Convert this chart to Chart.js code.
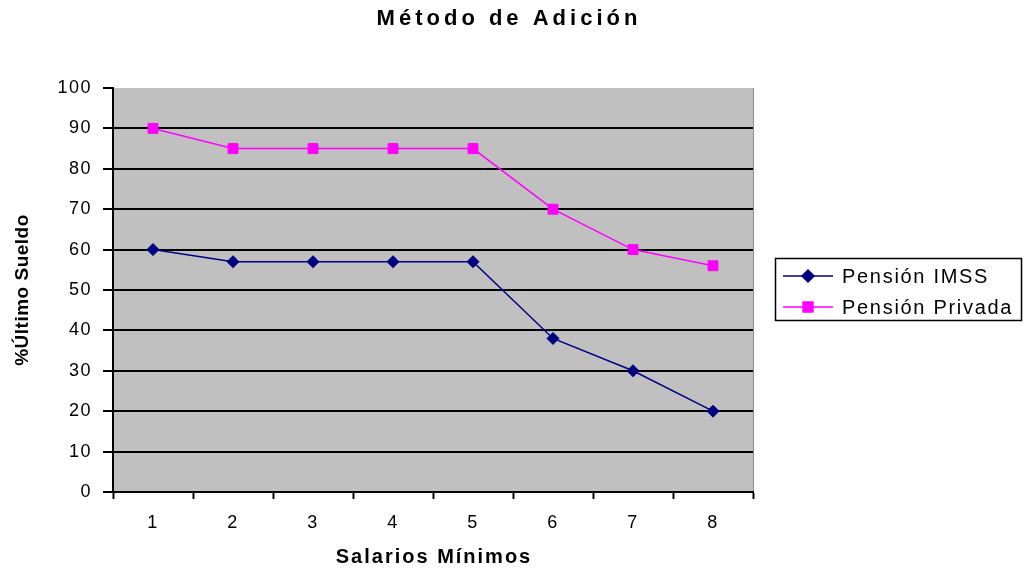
<!DOCTYPE html>
<html>
<head>
<meta charset="utf-8">
<script src="https://cdn.jsdelivr.net/npm/chart.js@4/dist/chart.umd.min.js"></script>
<style>
  html, body { margin: 0; padding: 0; background: #fff; }
  #wrap { width: 1024px; height: 569px; position: relative; }
</style>
</head>
<body>
<div id="wrap"><canvas id="c" width="1024" height="569"></canvas></div>
<script>
// data
var salarios = ["1", "2", "3", "4", "5", "6", "7", "8"];
var pensionIMSS = [60, 57, 57, 57, 57, 38, 30, 20];
var pensionPrivada = [90, 85, 85, 85, 85, 70, 60, 56];
var seriesNames = ["Pensión IMSS", "Pensión Privada"];
var chartTitle = "Método de Adición";
var xTitle = "Salarios Mínimos";
var yTitle = "%Último Sueldo";

var NAVY = "#000080", MAGENTA = "#FF00FF";
var FONT = "'Liberation Sans', Arial, sans-serif";

// gray plot area + titles + boxed legend
var decor = {
	id: "decor",
	beforeDraw: function(chart) {
		var ctx = chart.ctx, a = chart.chartArea;
		ctx.save();
		ctx.fillStyle = "#C0C0C0";
		ctx.fillRect(a.left, a.top, a.right - a.left, a.bottom - a.top);
		ctx.strokeStyle = "#909090";
		ctx.lineWidth = 1;
		ctx.beginPath();
		ctx.moveTo(a.right + 0.5, a.top);
		ctx.lineTo(a.right + 0.5, a.bottom);
		ctx.stroke();
		ctx.restore();
		ctx.letterSpacing = "1.5px"; // wide tick labels like the original
	},
	afterDraw: function(chart) {
		var ctx = chart.ctx, a = chart.chartArea;
		ctx.save();
		ctx.fillStyle = "#000";
		ctx.textAlign = "center";
		ctx.textBaseline = "middle";

		// title
		ctx.font = "bold 22px " + FONT;
		ctx.letterSpacing = "4px";
		ctx.fillText(chartTitle, 509, 19);

		// x title
		ctx.font = "bold 20px " + FONT;
		ctx.letterSpacing = "2px";
		ctx.fillText(xTitle, (a.left + a.right) / 2 + 1, 557);

		// y title
		ctx.save();
		ctx.translate(23, 290);
		ctx.rotate(-Math.PI / 2);
		ctx.font = "bold 19px " + FONT;
		ctx.letterSpacing = "0.5px";
		ctx.fillText(yTitle, 0, 0);
		ctx.restore();

		// legend
		var lx = 775, ly = 258, lw = 246, lh = 62;
		ctx.fillStyle = "#fff";
		ctx.fillRect(lx, ly, lw, lh);
		ctx.strokeStyle = "#000";
		ctx.lineWidth = 1.5;
		ctx.strokeRect(lx + 0.5, ly + 0.5, lw, lh);

		var items = [
			{name: seriesNames[0], color: NAVY, style: "rectRot", r: 6, y: 276},
			{name: seriesNames[1], color: MAGENTA, style: "rect", r: 7, y: 307}
		];
		ctx.font = "20px " + FONT;
		ctx.letterSpacing = "1.7px";
		ctx.textAlign = "left";
		items.forEach(function(it) {
			ctx.strokeStyle = it.color;
			ctx.lineWidth = 1.5;
			ctx.beginPath();
			ctx.moveTo(783, it.y);
			ctx.lineTo(833, it.y);
			ctx.stroke();
			ctx.fillStyle = it.color;
			Chart.helpers.drawPoint(ctx, {pointStyle: it.style, radius: it.r, rotation: 0, borderWidth: 1}, 808, it.y);
			ctx.fillStyle = "#000";
			ctx.fillText(it.name, 842, it.y + 1);
		});
		ctx.restore();
	}
};

new Chart(document.getElementById("c"), {
	type: "line",
	data: {
		labels: salarios,
		datasets: [
			{
				label: seriesNames[0],
				data: pensionIMSS,
				borderColor: NAVY,
				backgroundColor: NAVY,
				borderWidth: 1.5,
				pointStyle: "rectRot",
				pointRadius: 6,
				pointBorderWidth: 1,
				tension: 0
			},
			{
				label: seriesNames[1],
				data: pensionPrivada,
				borderColor: MAGENTA,
				backgroundColor: MAGENTA,
				borderWidth: 1.5,
				pointStyle: "rect",
				pointRadius: 7,
				pointBorderWidth: 1,
				tension: 0
			}
		]
	},
	options: {
		responsive: false,
		animation: false,
		devicePixelRatio: 1,
		layout: { padding: { top: 88, right: 271, left: 0, bottom: 0 } },
		plugins: {
			legend: { display: false },
			title: { display: false },
			tooltip: { enabled: false }
		},
		scales: {
			x: {
				offset: true,
				grid: {
					offset: true,
					drawOnChartArea: false,
					drawTicks: true,
					tickLength: 7,
					tickWidth: 2,
					tickColor: "#000"
				},
				border: { color: "#000", width: 2 },
				ticks: {
					color: "#000",
					padding: 13,
					maxRotation: 0,
					font: { family: FONT, size: 18 }
				},
				afterFit: function(s) { s.height = 77; }
			},
			y: {
				min: 0,
				max: 100,
				ticks: {
					stepSize: 10,
					color: "#000",
					padding: 11,
					font: { family: FONT, size: 18 }
				},
				grid: {
					color: function(c) { return c.tick && c.tick.value === 100 ? "rgba(0,0,0,0)" : "#000"; },
					lineWidth: 2,
					tickLength: 10,
					tickColor: "#000",
					tickWidth: 2
				},
				border: { color: "#000", width: 2 },
				afterFit: function(s) { s.width = 113; }
			}
		}
	},
	plugins: [decor]
});
</script>
</body>
</html>
